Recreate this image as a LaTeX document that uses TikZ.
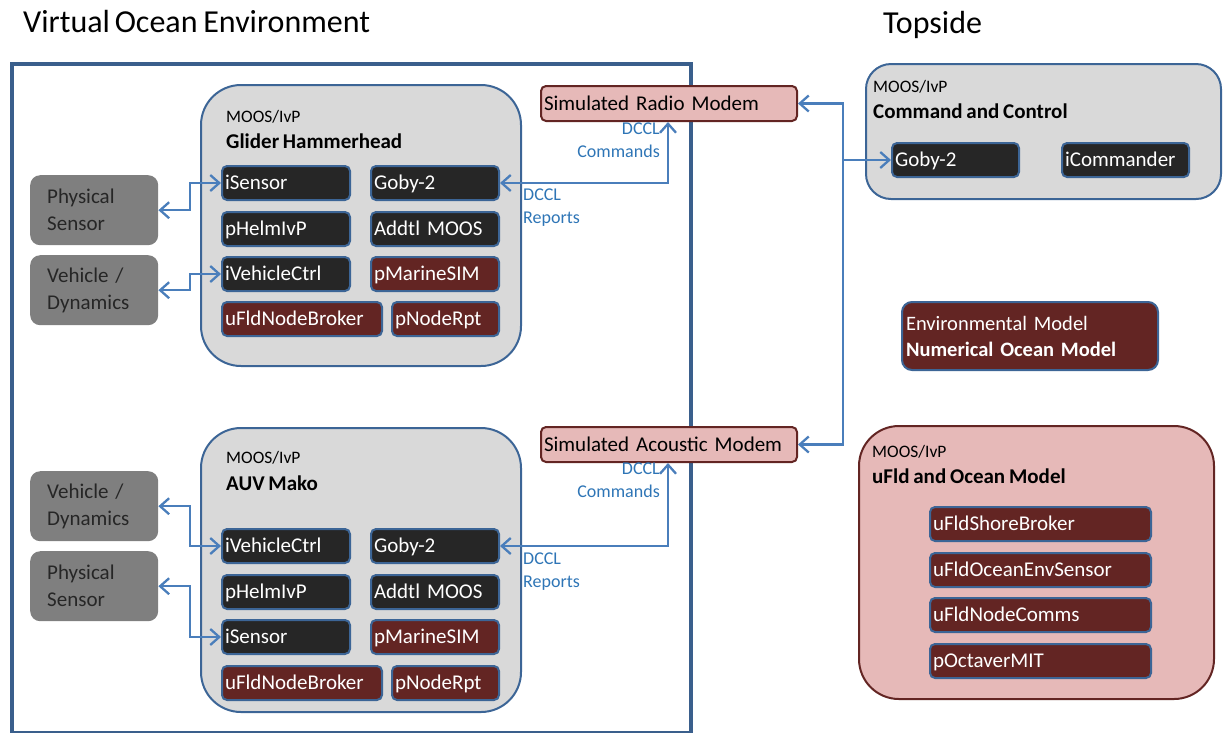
\documentclass[tikz,border=0pt]{standalone}
\usepackage{fontspec}
\setmainfont{Carlito}[WordSpace=0.8]
\usetikzlibrary{arrows.meta}
\definecolor{framecol}{RGB}{58,95,140}
\definecolor{boxblue}{RGB}{60,101,150}
\definecolor{linkblue}{RGB}{74,126,187}
\definecolor{labelblue}{RGB}{46,117,182}
\definecolor{lightg}{RGB}{217,217,217}
\definecolor{procdark}{RGB}{38,38,38}
\definecolor{procred}{RGB}{99,37,35}
\definecolor{pinkfill}{RGB}{230,185,184}
\definecolor{midgray}{RGB}{127,127,127}
\definecolor{darktext}{RGB}{38,38,38}
\begin{document}
\begin{tikzpicture}[x=1pt,y=-1pt,
  frame/.style={draw=framecol, line width=4pt, anchor=north west, inner sep=0},
  container/.style={draw=boxblue, line width=2pt, fill=lightg, rounded corners=40pt, anchor=north west, inner sep=0},
  proc/.style={draw=boxblue, line width=2pt, rounded corners=5pt, anchor=north west,
    minimum height=34pt, text=white, font=\fontsize{21}{24}\selectfont,
    text height=14pt, text depth=1pt, align=left, inner xsep=3pt, inner ysep=0},
  darkproc/.style={proc, fill=procdark},
  redproc/.style={proc, fill=procred},
  hw/.style={fill=midgray, rounded corners=10pt, anchor=north west, minimum width=128pt,
    minimum height=70pt, text width=94pt, inner xsep=17pt, align=left, text=darktext,
    font=\fontsize{21}{27}\selectfont},
  modem/.style={draw=procred, line width=2pt, fill=pinkfill, rounded corners=5pt, anchor=north west,
    minimum width=256pt, minimum height=35pt, text width=250pt, inner xsep=3pt, inner ysep=0,
    text height=14pt, text depth=1pt, align=left, font=\fontsize{21}{24}\selectfont},
  moos/.style={anchor=base west, inner sep=0, font=\fontsize{17.5}{20}\selectfont},
  heading/.style={anchor=base west, inner sep=0, font=\fontsize{21}{24}\selectfont\bfseries},
  title/.style={anchor=base west, inner sep=0, font=\fontsize{32}{36}\selectfont},
  dccl/.style={inner sep=0, text=labelblue, font=\fontsize{18}{23}\selectfont},
  conn/.style={draw=linkblue, line width=2.3pt, >={Straight Barb[length=9pt,width=16pt]}}
]
\useasboundingbox (0,0) rectangle (1225,732);

% section titles
\node[title] (tVirtual) at (23,32) {Virtual\hspace{-1pt} Ocean Environment};
\node[title] (tTop) at (883,33) {Topside};

% virtual ocean environment frame
\node[frame, minimum width=679pt, minimum height=669pt] (vframe) at (10,62) {};

% glider vehicle
\node[container, minimum width=320pt, minimum height=281pt] (glider) at (200,84) {};
\node[moos] (gMoos) at (226,122) {MOOS/IvP};
\node[heading] (gName) at (226,148) {Glider Hammerhead};
\node[darkproc, text width=122pt] (gIsens) at (221,165) {iSensor};
\node[darkproc, text width=122pt] (gGoby) at (370,165) {Goby-2};
\node[darkproc, text width=122pt] (gHelm) at (221,211) {pHelmIvP};
\node[darkproc, text width=122pt] (gAddtl) at (370,211) {Addtl MOOS};
\node[darkproc, text width=122pt] (gVeh) at (221,256) {iVehicleCtrl};
\node[redproc, text width=122pt] (gSim) at (370,256) {pMarineSIM};
\node[redproc, text width=154pt] (gBroker) at (221,301) {uFldNodeBroker};
\node[redproc, text width=101pt] (gRpt) at (391,301) {pNodeRpt};
\node[hw] (gPhys) at (30,175) {Physical\\Sensor};
\node[hw] (gDyn) at (30,255) {Vehicle /\\Dynamics};

% AUV vehicle
\node[container, minimum width=320pt, minimum height=284pt] (auv) at (200,427) {};
\node[moos] (aMoos) at (226,463) {MOOS/IvP};
\node[heading] (aName) at (226,490) {AUV Mako};
\node[darkproc, text width=122pt] (aVeh) at (221,528) {iVehicleCtrl};
\node[darkproc, text width=122pt] (aGoby) at (370,528) {Goby-2};
\node[darkproc, text width=122pt] (aHelm) at (221,574) {pHelmIvP};
\node[darkproc, text width=122pt] (aAddtl) at (370,574) {Addtl MOOS};
\node[darkproc, text width=122pt] (aIsens) at (221,619) {iSensor};
\node[redproc, text width=122pt] (aSim) at (370,619) {pMarineSIM};
\node[redproc, text width=154pt] (aBroker) at (221,665) {uFldNodeBroker};
\node[redproc, text width=101pt] (aRpt) at (391,665) {pNodeRpt};
\node[hw] (aDyn) at (30,471) {Vehicle /\\Dynamics};
\node[hw] (aPhys) at (30,551) {Physical\\Sensor};

% modems
\node[modem] (radio) at (540,85) {Simulated Radio Modem};
\node[modem] (acoustic) at (540,426) {Simulated Acoustic Modem};

% topside command and control
\node[container, rounded corners=25pt, minimum width=355pt, minimum height=135pt] (cc) at (865,63) {};
\node[moos] (cMoos) at (873,92) {MOOS/IvP};
\node[heading] (cName) at (873,118) {Command and Control};
\node[darkproc, text width=121pt] (tGoby) at (891,142) {Goby-2};
\node[darkproc, text width=121pt] (tCmd) at (1061,142) {iCommander};

% environmental model
\node[draw=boxblue, line width=2pt, fill=procred, rounded corners=10pt, anchor=north west,
  minimum width=256pt, minimum height=68pt, text width=248pt, inner xsep=4pt, align=left,
  text=white, font=\fontsize{20.5}{26}\selectfont] (env) at (901,301)
  {Environmental Model\\\textbf{Numerical Ocean Model}};

% shoreside uFld and ocean model
\node[container, draw=procred, fill=pinkfill, minimum width=355pt, minimum height=273pt] (ufld) at (858,425) {};
\node[moos] (uMoos) at (872,457) {MOOS/IvP};
\node[heading] (uName) at (872,483) {uFld and Ocean Model};
\node[redproc, text width=215pt] (uShore) at (929,506) {uFldShoreBroker};
\node[redproc, text width=215pt] (uEnv) at (929,552) {uFldOceanEnvSensor};
\node[redproc, text width=215pt] (uComms) at (929,597) {uFldNodeComms};
\node[redproc, text width=215pt] (uOct) at (929,643) {pOctaverMIT};

% connectors
\coordinate (rtap) at (668,0);
\coordinate (bus) at (843,0);
\draw[conn,<->] (gIsens.west) -- ++(-31,0) |- (gPhys.east);
\draw[conn,<->] (gVeh.west) -- ++(-31,0) |- (gDyn.east);
\draw[conn,<->] (aVeh.west) -- ++(-31,0) |- (aDyn.east);
\draw[conn,<->] (aIsens.west) -- ++(-31,0) |- (aPhys.east);
\draw[conn,<->] (gGoby.east) -| (radio.south -| rtap);
\draw[conn,<->] (aGoby.east) -| (acoustic.south -| rtap);
\draw[conn,<->] (radio.east) -- (radio.east -| bus) -- (acoustic.east -| bus) -- (acoustic.east);
\draw[conn,->] (tGoby.west -| bus) -- (tGoby.west);

% link labels
\node[dccl, anchor=north east, align=right] (gCmdLbl) at (660,123) {DCCL\\Commands};
\node[dccl, anchor=north west, align=left] (gRepLbl) at (523,189) {DCCL\\Reports};
\node[dccl, anchor=north east, align=right] (aCmdLbl) at (660,463) {DCCL\\Commands};
\node[dccl, anchor=north west, align=left] (aRepLbl) at (523,553) {DCCL\\Reports};
\end{tikzpicture}
\end{document}
